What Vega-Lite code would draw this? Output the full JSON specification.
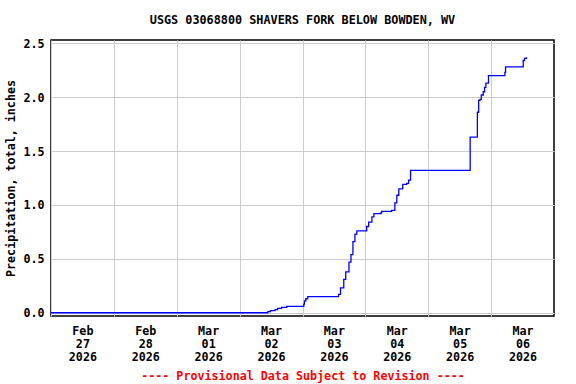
{
  "$schema": "https://vega.github.io/schema/vega-lite/v6.json",
  "width": 503,
  "height": 276,
  "autosize": "none",
  "padding": {"left": 51, "top": 40, "right": 22, "bottom": 68},
  "background": "white",
  "title": {
    "text": "USGS 03068800 SHAVERS FORK BELOW BOWDEN, WV",
    "font": "DejaVu Sans Mono",
    "fontSize": 11.8,
    "fontWeight": "bold",
    "color": "black",
    "anchor": "middle",
    "frame": "group",
    "offset": 11
  },
  "config": {
    "view": {"stroke": "black", "strokeWidth": 1.5},
    "axis": {
      "labelFont": "DejaVu Sans Mono",
      "labelFontSize": 11.7,
      "labelFontWeight": "bold",
      "labelColor": "black",
      "titleFont": "DejaVu Sans Mono",
      "titleFontSize": 11.7,
      "titleFontWeight": "bold",
      "titleColor": "black",
      "gridColor": "#cccccc",
      "gridWidth": 1,
      "domain": false,
      "ticks": false,
      "tickSize": 0
    }
  },
  "data": {
    "values": [
      {"time": "2026-02-27T00:00", "precip": 0.00},
      {"time": "2026-03-02T10:45", "precip": 0.01},
      {"time": "2026-03-02T11:45", "precip": 0.02},
      {"time": "2026-03-02T13:30", "precip": 0.03},
      {"time": "2026-03-02T14:30", "precip": 0.04},
      {"time": "2026-03-02T16:00", "precip": 0.05},
      {"time": "2026-03-02T18:00", "precip": 0.06},
      {"time": "2026-03-03T00:30", "precip": 0.08},
      {"time": "2026-03-03T00:45", "precip": 0.11},
      {"time": "2026-03-03T01:15", "precip": 0.13},
      {"time": "2026-03-03T02:00", "precip": 0.15},
      {"time": "2026-03-03T13:45", "precip": 0.17},
      {"time": "2026-03-03T14:30", "precip": 0.23},
      {"time": "2026-03-03T15:45", "precip": 0.31},
      {"time": "2026-03-03T16:30", "precip": 0.38},
      {"time": "2026-03-03T17:45", "precip": 0.47},
      {"time": "2026-03-03T18:30", "precip": 0.54},
      {"time": "2026-03-03T19:15", "precip": 0.66},
      {"time": "2026-03-03T20:00", "precip": 0.73},
      {"time": "2026-03-03T20:45", "precip": 0.76},
      {"time": "2026-03-04T00:30", "precip": 0.80},
      {"time": "2026-03-04T01:15", "precip": 0.84},
      {"time": "2026-03-04T02:30", "precip": 0.89},
      {"time": "2026-03-04T03:15", "precip": 0.92},
      {"time": "2026-03-04T06:00", "precip": 0.93},
      {"time": "2026-03-04T06:15", "precip": 0.94},
      {"time": "2026-03-04T10:00", "precip": 0.95},
      {"time": "2026-03-04T11:15", "precip": 1.02},
      {"time": "2026-03-04T12:00", "precip": 1.09},
      {"time": "2026-03-04T12:45", "precip": 1.15},
      {"time": "2026-03-04T14:15", "precip": 1.19},
      {"time": "2026-03-04T15:45", "precip": 1.20},
      {"time": "2026-03-04T16:30", "precip": 1.23},
      {"time": "2026-03-04T17:15", "precip": 1.32},
      {"time": "2026-03-05T16:00", "precip": 1.63},
      {"time": "2026-03-05T18:45", "precip": 1.86},
      {"time": "2026-03-05T19:15", "precip": 1.97},
      {"time": "2026-03-05T19:45", "precip": 1.98},
      {"time": "2026-03-05T20:15", "precip": 2.02},
      {"time": "2026-03-05T21:00", "precip": 2.05},
      {"time": "2026-03-05T21:30", "precip": 2.09},
      {"time": "2026-03-05T22:00", "precip": 2.13},
      {"time": "2026-03-05T23:00", "precip": 2.20},
      {"time": "2026-03-06T05:15", "precip": 2.23},
      {"time": "2026-03-06T05:30", "precip": 2.28},
      {"time": "2026-03-06T12:15", "precip": 2.34},
      {"time": "2026-03-06T12:45", "precip": 2.36},
      {"time": "2026-03-06T13:30", "precip": 2.37}
    ]
  },
  "mark": {"type": "line", "color": "#0000ff", "strokeWidth": 1.3, "interpolate": "step-after", "clip": true},
  "encoding": {
    "x": {
      "field": "time",
      "type": "temporal",
      "scale": {
        "domain": [
          {"year": 2026, "month": 2, "date": 27},
          {"year": 2026, "month": 3, "date": 7}
        ],
        "nice": false
      },
      "axis": {
        "title": "---- Provisional Data Subject to Revision ----",
        "titleColor": "#ff0000",
        "titlePadding": 8,
        "values": [
          {"year": 2026, "month": 2, "date": 27},
          {"year": 2026, "month": 2, "date": 28},
          {"year": 2026, "month": 3, "date": 1},
          {"year": 2026, "month": 3, "date": 2},
          {"year": 2026, "month": 3, "date": 3},
          {"year": 2026, "month": 3, "date": 4},
          {"year": 2026, "month": 3, "date": 5},
          {"year": 2026, "month": 3, "date": 6}
        ],
        "labelExpr": "[timeFormat(datum.value, '%b'), timeFormat(datum.value, '%d'), timeFormat(datum.value, '%Y')]",
        "labelOffset": 31.4,
        "labelAlign": "center",
        "labelBaseline": "top",
        "labelLineHeight": 13,
        "labelPadding": 9,
        "labelOverlap": false,
        "labelBound": false,
        "labelFlush": false,
        "grid": true
      }
    },
    "y": {
      "field": "precip",
      "type": "quantitative",
      "scale": {"domain": [-0.03, 2.53], "nice": false, "zero": false},
      "axis": {
        "title": "Precipitation, total, inches",
        "values": [0, 0.5, 1, 1.5, 2, 2.5],
        "format": ".1f",
        "labelPadding": 7,
        "titlePadding": 6,
        "grid": true
      }
    }
  }
}
